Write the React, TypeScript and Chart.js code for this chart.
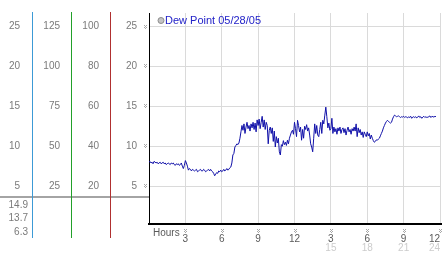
import React, { useEffect, useRef } from 'react';
import { Chart, registerables } from 'chart.js';

Chart.register(...registerables);

const SERIES_LABEL = 'Dew Point 05/28/05';
const STEP_HOURS = 5 / 60;

// dew point readings every 5 minutes starting at midnight (one row per hour)
const dewPoint = [
  8.0, 8.1, 7.9, 8.0, 7.8, 8.1, 8.0, 7.9, 8.0, 7.8, 7.9, 8.0,
  7.8, 7.9, 8.0, 7.8, 7.9, 7.7, 7.8, 7.9, 7.8, 7.7, 7.9, 7.8,
  7.9, 7.7, 7.6, 7.8, 7.7, 7.8, 7.6, 7.7, 7.9, 7.5, 7.2, 7.6,
  8.2, 7.9, 7.5, 7.0, 7.2, 7.1, 6.9, 7.1, 7.0, 6.9, 7.0, 7.1,
  6.8, 6.9, 7.0, 7.1, 6.9, 6.9, 7.1, 7.0, 6.8, 6.9, 7.0, 7.1,
  6.9, 7.1, 6.9, 6.8, 6.6, 6.3, 6.5, 6.7, 6.6, 6.9, 6.8, 7.0,
  6.8, 6.9, 7.1, 6.9, 7.0, 7.2, 7.0, 7.1, 7.3, 7.4, 7.9, 8.9,
  9.1, 9.9, 10.1, 10.3, 10.2, 10.4, 11.0, 11.8, 12.6, 12.0, 12.8, 11.6,
  12.4, 13.0, 12.2, 12.6, 11.9, 12.8, 12.3, 13.0, 12.1, 12.9, 11.8, 13.3,
  12.6, 13.4, 12.2, 13.0, 13.75, 12.4, 13.3, 12.1, 13.0, 12.6, 10.3, 12.0,
  12.4, 11.6, 12.3, 10.6, 11.9, 9.9, 11.2, 10.4, 11.0, 9.3, 8.9, 10.2,
  10.0, 10.7, 10.2, 10.5, 10.1, 10.75, 10.3, 11.0, 11.4, 11.8, 12.0, 11.5,
  13.0, 12.2, 11.2, 13.25, 12.6, 11.8, 12.4, 10.75, 12.1, 11.0, 12.5, 12.1,
  12.7, 11.9, 12.3, 11.4, 10.3, 9.9, 9.3, 11.0, 12.8, 11.6, 12.6, 11.4,
  11.2, 12.1, 13.0, 11.6, 13.25, 12.8, 13.9, 14.9, 13.7, 12.3, 12.9, 12.0,
  12.2, 13.5, 11.6, 12.4, 11.8, 12.2, 11.5, 12.3, 11.9, 12.4, 11.6, 12.1,
  12.3, 11.7, 12.2, 11.4, 12.0, 12.4, 11.8, 12.1, 11.5, 12.2, 11.9, 12.4,
  11.9, 12.8, 11.2, 12.3, 11.7, 12.1, 11.4, 11.8, 11.1, 11.8, 11.5, 11.2,
  11.8, 11.3, 11.6, 10.9, 11.4, 11.0, 10.7, 10.5, 10.6, 10.8, 10.75, 10.9,
  11.0, 11.3, 11.6, 11.9, 12.3, 12.6, 12.9, 13.1, 13.25, 13.1, 13.0, 12.9,
  13.0, 13.4, 13.7, 13.9, 13.8, 13.7, 13.75, 13.8, 13.7, 13.6, 13.7, 13.65,
  13.75, 13.6, 13.7, 13.65, 13.55, 13.7, 13.6, 13.75, 13.5, 13.65, 13.7, 13.6,
  13.7, 13.55, 13.65, 13.8, 13.6, 13.7, 13.5, 13.65, 13.75, 13.6, 13.7, 13.6,
  13.65, 13.7, 13.8, 13.6, 13.75, 13.7, 13.65, 13.75, 13.7,
];

const hourTicks = [0, 3, 6, 9, 12, 15, 18, 21, 24];
const hourLabels = ['', '3', '6', '9', '12', '3', '6', '9', '12'];
const hourLabels2 = ['', '', '', '', '', '15', '18', '21', '24'];
const ticksMain = [5, 10, 15, 20, 25];
const ticksBlue = [5, 10, 15, 20, 25];
const ticksGreen = [25, 50, 75, 100, 125];
const ticksRed = [20, 40, 60, 80, 100];
const Y_MIN = 0.25;
const Y_MAX = 26.7;

const FONT = 'Liberation Sans, Arial, sans-serif';
const LABEL_COLOR = '#7a7a7a';

function hatch(ctx: CanvasRenderingContext2D, x: number, y: number) {
  ctx.fillStyle = '#a8a8a8';
  const pts = [[0, 0], [2, 0], [1, 1], [0, 2], [2, 2], [1, 3]];
  for (const [dx, dy] of pts) ctx.fillRect(Math.round(x) + dx, Math.round(y) + dy, 1, 1);
}

const decor = {
  id: 'decor',
  afterDraw(chart: any) {
    const ctx: CanvasRenderingContext2D = chart.ctx;
    const ca = chart.chartArea;
    const s = chart.scales;
    ctx.save();
    // gray separator across the left panel
    ctx.fillStyle = '#a4a4a4';
    ctx.fillRect(0, ca.bottom - 28, ca.left, 2);
    // coloured panel lines
    const lines: [string, string][] = [['yBlue', '#3c9ad6'], ['yGreen', '#22a02a'], ['yRed', '#b03030']];
    for (const [id, col] of lines) {
      const x = Math.round(s[id].right) - 0.5;
      ctx.strokeStyle = col;
      ctx.lineWidth = 1;
      ctx.beginPath();
      ctx.moveTo(x, ca.top - 1);
      ctx.lineTo(x, ca.bottom + 14);
      ctx.stroke();
    }
    // extend x axis line to edge
    ctx.fillStyle = '#000';
    ctx.fillRect(ca.right, ca.bottom - 1, chart.width - ca.right, 2);
    // min / current / max
    const mx = Math.max(...dewPoint);
    const mn = Math.min(...dewPoint);
    const cur = dewPoint[dewPoint.length - 1];
    ctx.font = `10px ${FONT}`;
    ctx.fillStyle = LABEL_COLOR;
    ctx.textAlign = 'right';
    ctx.textBaseline = 'middle';
    const lx = s.yBlue.right - 5;
    ctx.fillText(mx.toFixed(1), lx, ca.bottom - 19);
    ctx.fillText(cur.toFixed(1), lx, ca.bottom - 5.5);
    ctx.fillText(mn.toFixed(1), lx, ca.bottom + 8);
    // tick hatches
    for (const v of ticksMain) hatch(ctx, ca.left - 5, s.y.getPixelForValue(v) - 2);
    for (const v of hourTicks.slice(1)) hatch(ctx, s.x.getPixelForValue(v) - 1, ca.bottom + 5);
    // Hours label
    ctx.textAlign = 'left';
    ctx.fillStyle = '#5a5a5a';
    ctx.fillText('Hours', ca.left + 4, ca.bottom + 9.5);
    // legend
    ctx.beginPath();
    ctx.arc(ca.left + 12, ca.top + 7.5, 3, 0, Math.PI * 2);
    ctx.fillStyle = '#c4c4c4';
    ctx.fill();
    ctx.strokeStyle = '#8c8c8c';
    ctx.lineWidth = 1;
    ctx.stroke();
    ctx.font = `11px ${FONT}`;
    ctx.fillStyle = '#2222c8';
    ctx.fillText(SERIES_LABEL, ca.left + 16, ca.top + 8);
    ctx.restore();
  },
};

function fixWidth(w: number) {
  return (scale: any) => {
    scale.width = w;
    scale.paddingTop = 0;
    scale.paddingBottom = 0;
  };
}
function fixHeight(h: number) {
  return (scale: any) => {
    scale.height = h;
    scale.paddingLeft = 0;
    scale.paddingRight = 0;
  };
}
function setTicks(vals: number[]) {
  return (scale: any) => {
    scale.ticks = vals.map((v) => ({ value: v }));
  };
}

function sideAxis(weight: number, factor: number, vals: number[], width: number, pad: number) {
  return {
    type: 'linear',
    position: 'left',
    weight,
    min: Y_MIN * factor,
    max: Y_MAX * factor,
    afterBuildTicks: setTicks(vals),
    afterFit: fixWidth(width),
    border: { display: false },
    grid: { drawOnChartArea: false, drawTicks: false },
    ticks: { padding: pad, color: LABEL_COLOR, font: { family: FONT, size: 10 } },
  };
}

export default function App() {
  const ref = useRef<HTMLCanvasElement | null>(null);
  useEffect(() => {
    if (!ref.current) return;
    const data = dewPoint.map((v, i) => ({ x: i * STEP_HOURS, y: v }));
    const chart = new Chart(ref.current, {
      type: 'line',
      data: {
        datasets: [
          {
            label: SERIES_LABEL,
            data,
            borderColor: '#1010a8',
            borderWidth: 1,
            pointRadius: 0,
            tension: 0,
            xAxisID: 'x',
            yAxisID: 'y',
          },
        ],
      },
      options: {
        animation: false,
        responsive: false,
        devicePixelRatio: 1,
        layout: { padding: { top: 13, right: 2, left: 0, bottom: 0 } },
        plugins: { legend: { display: false }, tooltip: { enabled: false } },
        scales: {
          x: {
            type: 'linear',
            position: 'bottom',
            weight: 0,
            min: 0,
            max: 24,
            afterBuildTicks: setTicks(hourTicks),
            afterFit: fixHeight(19),
            border: { color: '#000', width: 2 },
            grid: { color: '#dadada', drawTicks: false },
            ticks: {
              autoSkip: false,
              maxRotation: 0,
              align: 'inner',
              padding: 9,
              color: '#5a5a5a',
              font: { family: FONT, size: 10 },
              callback: (_v: any, i: number) => hourLabels[i],
            },
          },
          x2: {
            type: 'linear',
            position: 'bottom',
            weight: 1,
            min: 0,
            max: 24,
            afterBuildTicks: setTicks(hourTicks),
            afterFit: fixHeight(10),
            border: { display: false },
            grid: { drawOnChartArea: false, drawTicks: false },
            ticks: {
              autoSkip: false,
              maxRotation: 0,
              align: 'inner',
              padding: -1,
              color: '#cccccc',
              font: { family: FONT, size: 10 },
              callback: (_v: any, i: number) => hourLabels2[i],
            },
          },
          y: {
            type: 'linear',
            position: 'left',
            weight: 0,
            min: Y_MIN,
            max: Y_MAX,
            afterBuildTicks: setTicks(ticksMain),
            afterFit: fixWidth(38),
            border: { color: '#000', width: 1 },
            grid: { color: '#dadada', drawTicks: false },
            ticks: { padding: 12, color: LABEL_COLOR, font: { family: FONT, size: 10 } },
          },
          yRed: sideAxis(1, 4, ticksRed, 39, 12),
          yGreen: sideAxis(2, 5, ticksGreen, 39, 12),
          yBlue: sideAxis(3, 1, ticksBlue, 33, 13),
        } as any,
      },
      plugins: [decor],
    } as any);
    return () => chart.destroy();
  }, []);
  return (
    <div style={{ position: 'absolute', left: 0, top: 0, width: 442, height: 253, background: '#fff' }}>
      <canvas ref={ref} width={442} height={253} />
    </div>
  );
}
